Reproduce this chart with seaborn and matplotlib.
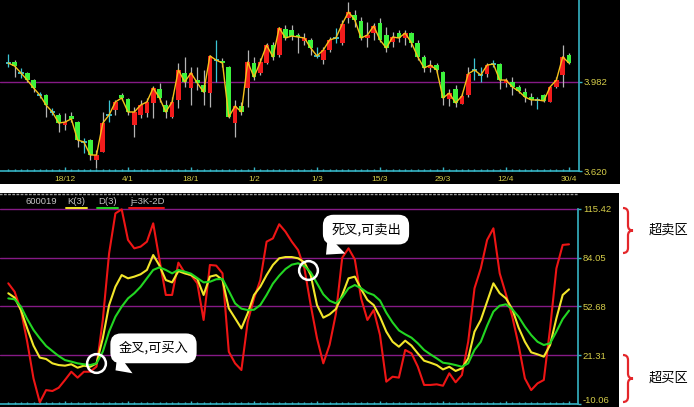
import numpy as np
import pandas as pd
import matplotlib
matplotlib.use("Agg")
import matplotlib.pyplot as plt
from matplotlib.patches import Rectangle, PathPatch
from matplotlib.path import Path
from matplotlib.lines import Line2D
from matplotlib.transforms import offset_copy, ScaledTranslation
import seaborn as sns

# ---------------- data ----------------
stock_code = "600019"
date_labels = ["18/12", "4/1", "18/1", "1/2", "1/3", "15/3", "29/3", "12/4", "30/4"]
price_ticks = [3.620, 3.982]
kdj_ticks = [115.42, 84.05, 52.68, 21.31, -10.06]
legend_names = ["K(3)", "D(3)", "j=3K-2D"]
bubble_texts = ["金叉,可买入", "死叉,可卖出"]
zone_labels = ["超卖区", "超买区"]

open_ = [4.059, 4.063, 4.019, 4.019, 3.990, 3.929, 3.929, 3.860, 3.848, 3.807,
         3.844, 3.819, 3.738, 3.746, 3.665, 3.697, 3.848, 3.868, 3.929, 3.913,
         3.807, 3.848, 3.856, 3.897, 3.954, 3.888, 3.840, 3.909, 4.019, 3.958,
         3.990, 3.970, 3.937, 4.071, 4.067, 4.043, 3.815, 3.884, 3.958, 4.059,
         4.019, 4.059, 4.132, 4.092, 4.198, 4.193, 4.173, 4.149, 4.153, 4.088,
         4.071, 4.112, 4.161, 4.141, 4.242, 4.254, 4.230, 4.161, 4.181, 4.222,
         4.173, 4.145, 4.181, 4.161, 4.181, 4.141, 4.084, 4.039, 4.051, 4.023,
         3.913, 3.954, 3.893, 3.929, 4.031, 4.010, 4.015, 4.055, 4.055, 3.978,
         3.982, 3.962, 3.941, 3.921, 3.909, 3.929, 3.901, 3.962, 4.010, 4.092]
high = [4.096, 4.071, 4.039, 4.023, 3.994, 3.941, 3.933, 3.876, 3.856, 3.856,
        3.860, 3.823, 3.754, 3.750, 3.705, 3.860, 3.909, 3.909, 3.937, 3.917,
        3.880, 3.909, 3.917, 3.966, 3.978, 3.909, 3.921, 4.059, 4.084, 4.043,
        4.043, 4.031, 4.092, 4.153, 4.080, 4.047, 3.909, 3.901, 4.112, 4.084,
        4.080, 4.141, 4.145, 4.206, 4.214, 4.214, 4.181, 4.181, 4.161, 4.124,
        4.124, 4.165, 4.202, 4.234, 4.307, 4.275, 4.246, 4.226, 4.222, 4.242,
        4.206, 4.185, 4.193, 4.193, 4.185, 4.153, 4.092, 4.071, 4.059, 4.027,
        3.954, 3.970, 3.937, 4.043, 4.080, 4.043, 4.059, 4.071, 4.059, 3.998,
        4.002, 3.970, 3.958, 3.937, 3.921, 3.933, 3.966, 4.002, 4.132, 4.100]
low = [4.043, 4.002, 3.998, 3.982, 3.941, 3.917, 3.840, 3.848, 3.779, 3.787,
       3.819, 3.718, 3.693, 3.665, 3.632, 3.697, 3.819, 3.848, 3.909, 3.848,
       3.758, 3.836, 3.840, 3.836, 3.901, 3.836, 3.836, 3.876, 3.962, 3.888,
       3.949, 3.888, 3.880, 3.982, 4.043, 3.836, 3.758, 3.848, 3.880, 3.990,
       4.010, 4.055, 4.071, 4.084, 4.153, 4.153, 4.100, 4.132, 4.092, 4.080,
       4.055, 4.104, 4.141, 4.132, 4.222, 4.206, 4.153, 4.124, 4.153, 4.145,
       4.104, 4.124, 4.145, 4.132, 4.124, 4.071, 4.023, 4.023, 4.019, 3.888,
       3.884, 3.880, 3.893, 3.921, 3.990, 3.982, 4.002, 4.043, 3.954, 3.962,
       3.929, 3.937, 3.901, 3.888, 3.872, 3.901, 3.901, 3.958, 3.962, 4.055]
close = [4.059, 4.047, 4.019, 3.990, 3.958, 3.929, 3.888, 3.860, 3.815, 3.819,
         3.832, 3.746, 3.738, 3.685, 3.685, 3.815, 3.848, 3.901, 3.917, 3.860,
         3.860, 3.888, 3.901, 3.958, 3.917, 3.860, 3.901, 4.031, 3.982, 4.019,
         3.978, 3.941, 4.088, 4.071, 4.059, 3.840, 3.884, 3.860, 4.063, 4.002,
         4.063, 4.132, 4.084, 4.202, 4.161, 4.169, 4.165, 4.161, 4.120, 4.088,
         4.112, 4.153, 4.161, 4.218, 4.267, 4.234, 4.161, 4.173, 4.210, 4.153,
         4.120, 4.165, 4.161, 4.181, 4.141, 4.084, 4.039, 4.051, 4.031, 3.917,
         3.937, 3.897, 3.925, 4.015, 4.031, 4.010, 4.051, 4.055, 3.990, 3.990,
         3.962, 3.945, 3.921, 3.909, 3.909, 3.905, 3.962, 3.990, 4.084, 4.059]

k_line = [61.2, 58.4, 50.4, 38.6, 27.5, 19.8, 18.9, 16.1, 15.0, 14.6,
          15.5, 13.3, 14.6, 13.9, 16.1, 32.2, 53.6, 65.4, 72.9, 70.8,
          71.9, 73.4, 76.2, 85.8, 79.0, 69.7, 68.2, 75.5, 74.0, 72.9,
          70.4, 60.1, 71.9, 72.9, 69.7, 51.5, 45.1, 38.6, 48.3, 60.1,
          65.4, 72.9, 79.4, 83.7, 84.5, 84.5, 83.7, 81.1, 72.9, 53.6,
          45.5, 47.6, 51.1, 60.1, 70.8, 71.9, 63.9, 56.9, 53.6, 46.0,
          36.5, 30.0, 26.8, 30.7, 27.5, 22.5, 17.8, 16.5, 15.0, 12.2,
          13.9, 11.2, 12.9, 19.3, 36.5, 44.0, 55.8, 67.6, 61.2, 57.9,
          50.9, 39.1, 30.0, 23.2, 21.9, 20.4, 27.9, 45.1, 60.1, 63.7]
d_line = [57.9, 57.3, 52.6, 44.6, 37.6, 32.2, 27.3, 24.0, 20.8, 18.2,
          17.2, 16.1, 15.5, 15.0, 16.1, 23.6, 36.5, 46.1, 52.6, 57.9,
          61.2, 65.4, 70.8, 76.2, 77.9, 76.2, 74.0, 76.2, 75.1, 73.8,
          71.0, 68.2, 68.6, 70.2, 70.4, 62.7, 54.7, 51.3, 50.4, 50.6,
          53.6, 60.1, 67.4, 72.5, 76.8, 79.6, 80.5, 78.7, 74.7, 67.6,
          60.5, 56.4, 54.7, 58.6, 64.4, 66.5, 64.4, 61.6, 60.1, 56.5,
          48.7, 42.4, 37.3, 34.8, 32.6, 29.0, 24.7, 21.9, 19.3, 16.5,
          15.9, 15.0, 13.9, 16.1, 24.7, 30.0, 40.3, 49.4, 53.2, 54.1,
          50.9, 46.1, 39.7, 34.3, 30.0, 27.9, 29.0, 36.5, 44.6, 50.0]
j_line = [67.6, 62.2, 50.4, 30.0, 6.4, -9.0, -1.1, -1.7, 0.4, 5.4,
          10.7, 6.9, 10.7, 10.7, 14.0, 44.0, 86.9, 112.6, 115.2, 95.5,
          90.1, 91.2, 94.4, 106.2, 82.6, 60.1, 60.1, 80.9, 74.4, 72.9,
          67.6, 44.0, 79.4, 79.0, 74.0, 23.6, 16.1, 11.8, 42.9, 57.9,
          69.7, 94.4, 96.5, 105.6, 100.8, 94.4, 89.0, 77.2, 53.6, 32.2,
          16.1, 28.0, 48.0, 84.0, 90.1, 83.0, 57.9, 44.0, 50.4, 34.3,
          4.3, 7.5, 6.9, 24.7, 22.5, 14.0, 2.2, 2.2, 2.6, 1.7,
          9.7, 3.9, 8.6, 30.0, 64.4, 77.2, 95.5, 103.0, 74.0, 60.5,
          46.1, 27.9, 6.4, -1.1, 3.2, 5.4, 38.6, 77.2, 92.3, 92.7]

# ---------------- style ----------------
sns.set_theme(style="ticks")
plt.rcParams["font.family"] = ["Liberation Sans", "Noto Sans CJK SC", "DejaVu Sans"]

C_UP, C_DN, C_DOJI, C_WICK = "#f21c1c", "#3cf23c", "#3cc6d6", "#b4b4b4"
C_CLOSE = "#f5c21a"
CYAN, PURPLE, YEL = "#36b4c4", "#861a86", "#d6ce4a"
C_K, C_D, C_J = "#f2e62a", "#22d622", "#ee1515"

W, H = 694, 407
X0, DX = 8.3, 6.3  # pixel x of first day, pixel spacing per day


def fx(p):
    return p / W


def fy(p):
    return 1 - p / H


def px_idx(p):
    return (p - X0) / DX


fig = plt.figure(figsize=(W / 100, H / 100), dpi=100)
fig.patch.set_facecolor("white")
fig.add_artist(Rectangle((0, fy(184)), fx(620), 184 / H, transform=fig.transFigure,
                         facecolor="black", edgecolor="none", zorder=-2))
fig.add_artist(Rectangle((0, 0), fx(619), (H - 193) / H, transform=fig.transFigure,
                         facecolor="black", edgecolor="none", zorder=-2))

n = len(close)
idx = np.arange(n)
o, c, hi, lo = map(np.array, (open_, close, high, low))
k, d, j = map(np.array, (k_line, d_line, j_line))

# ---------------- price panel ----------------
ax1 = fig.add_axes([0, fy(171), fx(579), 171 / H])
up = c > o
dn = c < o
flat = ~(up | dn)
body_col = np.where(up, C_UP, C_DN)
wick_col = np.where(flat, C_DOJI, C_WICK)
ax1.axhline(price_ticks[1], color=PURPLE, lw=1, zorder=1)
ax1.vlines(idx, lo, hi, colors=wick_col, linewidth=0.9, zorder=2)
nb = ~flat
ax1.bar(idx[nb], (c - o)[nb], bottom=o[nb], width=0.74, color=body_col[nb],
        linewidth=0, zorder=3)
ax1.hlines(c[flat], idx[flat] - 0.42, idx[flat] + 0.42, colors=C_DOJI,
           linewidth=1.3, zorder=3)
sns.lineplot(x=idx, y=c, ax=ax1, color=C_CLOSE, linewidth=1.0, zorder=4)

ax1.set_xlim(px_idx(0), px_idx(579))
ax1.set_ylim(3.620, 4.3155)

# ---------------- KDJ panel ----------------
ax2 = fig.add_axes([0, fy(404), fx(578), (404 - 194) / H])
for lv in kdj_ticks[:-1]:
    ax2.axhline(lv, color=PURPLE, lw=1, zorder=1)
df = pd.DataFrame({
    "day": np.tile(idx, 3),
    "value": np.concatenate([j, k, d]),
    "line": np.repeat(["J", "K", "D"], n),
})
sns.lineplot(data=df, x="day", y="value", hue="line", hue_order=["J", "K", "D"],
             palette={"J": C_J, "K": C_K, "D": C_D}, linewidth=1.5,
             legend=False, ax=ax2, zorder=3)
ax2.set_xlim(px_idx(0), px_idx(578))
ax2.set_ylim(-10.06, 125.07)

# ---------------- axes styling ----------------
for ax in (ax1, ax2):
    ax.set_facecolor("none")
    ax.grid(False)
    ax.set_xlabel("")
    ax.set_ylabel("")
    for s in ax.spines.values():
        s.set_visible(False)
    for s in ("right", "bottom"):
        ax.spines[s].set_visible(True)
        ax.spines[s].set_color(CYAN)
        ax.spines[s].set_linewidth(1.2)
    ax.yaxis.tick_right()
    ax.set_xticks(idx, minor=True)
    ax.set_xticks(np.arange(9, n, 10))
    ax.tick_params(axis="x", which="both", direction="in", color=CYAN, width=1,
                   bottom=True, top=False)
    ax.tick_params(axis="x", which="minor", length=1.8)
    ax.tick_params(axis="y", which="major", direction="out", length=2.5, width=1,
                   color=CYAN, labelcolor=YEL, labelsize=6.8, pad=1,
                   right=True, left=False, labelright=True, labelleft=False)
    ax.tick_params(axis="y", which="minor", right=False, left=False)

ax1.set_xticklabels(date_labels)
ax1.tick_params(axis="x", which="major", length=3, labelcolor=YEL, labelsize=6, pad=3.5)
ax1.set_yticks(price_ticks)
ax1.set_yticklabels([f"{v:.3f}" for v in price_ticks])

ax2.set_xticklabels([])
ax2.tick_params(axis="x", which="major", length=2.5)
ax2.set_yticks(kdj_ticks)
ax2.set_yticklabels([f"{v:.2f}" for v in kdj_ticks])
ax2.spines["right"].set_bounds(kdj_ticks[-1], kdj_ticks[0])
ax2.spines["top"].set_visible(True)
ax2.spines["top"].set_color("#9a9a9a")
ax2.spines["top"].set_linestyle((0, (1, 2)))
ax2.spines["top"].set_linewidth(1)
# lift the lowest KDJ label slightly so it stays inside the picture
low_lab = ax2.get_yticklabels()[-1]
low_lab.set_transform(low_lab.get_transform() + ScaledTranslation(0, 3 / 72, fig.dpi_scale_trans))

# ---------------- indicator legend ----------------
fig.text(fx(26), fy(201.5), stock_code, ha="left", va="center", fontsize=6.8, color="#c4c4c4")
for name, x0, x1, col in zip(legend_names, (67, 98, 130), (87, 118, 164), (C_K, C_D, C_J)):
    fig.text(fx(x0), fy(201.5), name, ha="left", va="center", fontsize=6.8, color="#c4c4c4")
    fig.add_artist(Line2D([fx(x0 - 1), fx(x1)], [fy(207.5), fy(207.5)],
                          transform=fig.transFigure, color=col, lw=1.4))


# ---------------- cross annotations ----------------
def kd_cross(i):
    a = k[i] - d[i]
    b = k[i + 1] - d[i + 1]
    t = a / (a - b)
    return i + t, k[i] + t * (k[i + 1] - k[i])


golden = kd_cross(13)
death = kd_cross(47)
specs = [(golden, bubble_texts[0], (19, -7), (38, 22), 0.25),
         (death, bubble_texts[1], (18, 15), (40, 25), 0.2)]
for (cx, cy), txt, tip_off, txt_off, rp in specs:
    ax2.plot([cx], [cy], marker="o", markersize=13.5, markerfacecolor="none",
             markeredgecolor="white", markeredgewidth=1.8, zorder=6)
    tip_tr = offset_copy(ax2.transData, fig=fig, x=tip_off[0], y=tip_off[1], units="dots")
    ax2.annotate(txt, xy=(cx, cy), xycoords=tip_tr, xytext=txt_off,
                 textcoords="offset pixels", ha="center", va="center",
                 fontsize=9.5, family=["Noto Sans CJK SC"], color="black", zorder=7,
                 bbox=dict(boxstyle="round,pad=0.62,rounding_size=0.8", fc="white", ec="none"),
                 arrowprops=dict(arrowstyle="wedge,tail_width=1.9,shrink_factor=0.5",
                                 fc="white", ec="none", relpos=(rp, 0.0),
                                 shrinkA=0, shrinkB=0))


# ---------------- zone braces ----------------
def brace_path(top, bottom, xl=623, xm=628, xt=633):
    m = (top + bottom) / 2
    pts = [(xl, top), (xm, top), (xm, top + 5), (xm, m - 5), (xm, m), (xt, m),
           (xm, m), (xm, m + 5), (xm, bottom - 5), (xm, bottom), (xl, bottom)]
    codes = [Path.MOVETO, Path.CURVE3, Path.CURVE3, Path.LINETO, Path.CURVE3, Path.CURVE3,
             Path.CURVE3, Path.CURVE3, Path.LINETO, Path.CURVE3, Path.CURVE3]
    return Path([(fx(x), fy(y)) for x, y in pts], codes)


for (top, bottom), label in zip(((208, 253), (355, 402)), zone_labels):
    fig.add_artist(PathPatch(brace_path(top, bottom), transform=fig.transFigure,
                             facecolor="none", edgecolor="#e4262a", lw=1.6))
    fig.text(fx(668), fy((top + bottom) / 2), label, ha="center", va="center",
             fontsize=9.5, family=["Noto Sans CJK SC"], color="black")

fig.savefig("out.png", dpi=100, facecolor="white")
